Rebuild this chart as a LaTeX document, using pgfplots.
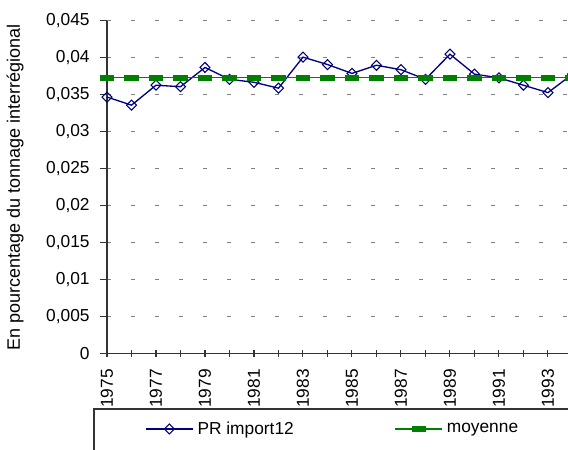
\documentclass[border=0pt]{standalone}
\usepackage{fontspec}
\setmainfont{Liberation Sans}
\usepackage{pgfplots}
\pgfplotsset{compat=1.18}
\definecolor{navy}{HTML}{000080}
\definecolor{xlgreen}{HTML}{008000}
\newcommand{\lbl}{\fontsize{13}{15}\selectfont}

\begin{document}
\begin{tikzpicture}
% page = reference size (1 px = 0.75pt), drawing cropped to it
\useasboundingbox (0pt,0pt) rectangle (426pt,337.5pt);
\clip (0pt,0pt) rectangle (426pt,337.5pt);
\begin{axis}[
  at={(80.25pt,72.4pt)}, anchor=south west,
  scale only axis,
  width=349.1pt, height=249.4pt,
  xmin=1975, xmax=1994,
  ymin=0, ymax=0.045,
  axis lines=left,
  axis line style={-, black!80, line width=0.8pt},
  xtick={1975,...,1994},
  xticklabels={1975,,1977,,1979,,1981,,1983,,1985,,1987,,1989,,1991,,1993,},
  ytick={0,0.005,...,0.045},
  scaled y ticks=false,
  xtick align=center, ytick align=outside,
  major tick length=5.5pt,
  tick style={black!80, line width=0.8pt},
  /pgf/number format/.cd, use comma, fixed, precision=3, assume math mode=true,
  /pgfplots/.cd,
  tick label style={font=\lbl},
  yticklabel shift=4pt,
  xticklabel shift=5.5pt,
  x tick label style={rotate=90, anchor=east},
  ymajorgrids,
  major grid style={black!50, line width=0.8pt, dash pattern=on 3pt off 15pt},
  every axis y label/.style={at={(axis description cs:-0.1976,0.5)}, rotate=90, anchor=center,
    font=\fontsize{13.5}{16}\selectfont},
  ylabel={En pourcentage du tonnage interrégional},
  legend columns=2,
  legend style={at={(axis description cs:0.0816,-0.2271)}, anchor=west,
    draw=none, fill=none, inner sep=0pt, font=\lbl,
    nodes={inner xsep=3pt},
    /tikz/column 2/.style={column sep=72.75pt}},
  legend image code/.code={\draw[mark repeat=2,mark phase=2,#1] plot coordinates {(0pt,0pt) (17.6pt,0pt) (35.2pt,0pt)};},
]
\addplot[navy, line width=1pt, mark=diamond, mark size=3.75pt,
  mark options={xscale=1.33, fill=white, line width=0.8pt}] coordinates {
  (1975,0.0347) (1976,0.0336) (1977,0.0363) (1978,0.0361) (1979,0.0387)
  (1980,0.0371) (1981,0.0367) (1982,0.0359) (1983,0.0401) (1984,0.0391)
  (1985,0.0379) (1986,0.0390) (1987,0.0384) (1988,0.0371) (1989,0.0405)
  (1990,0.0378) (1991,0.0373) (1992,0.0363) (1993,0.0353) (1994,0.0378)
};
\addlegendentry{PR import12}
\addplot[xlgreen, line width=0.8pt, mark=square*, mark size=1.75pt,
  mark options={xscale=2.8}] coordinates {
  (1975,0.0373) (1976,0.0373) (1977,0.0373) (1978,0.0373) (1979,0.0373)
  (1980,0.0373) (1981,0.0373) (1982,0.0373) (1983,0.0373) (1984,0.0373)
  (1985,0.0373) (1986,0.0373) (1987,0.0373) (1988,0.0373) (1989,0.0373)
  (1990,0.0373) (1991,0.0373) (1992,0.0373) (1993,0.0373) (1994,0.0373)
};
\addlegendentry{moyenne}
\end{axis}
% legend frame, running past the right and bottom edges as in the reference
\draw[black!80, line width=0.8pt] (70.5pt,30.75pt) rectangle (470pt,-30pt);
\end{tikzpicture}
\end{document}
